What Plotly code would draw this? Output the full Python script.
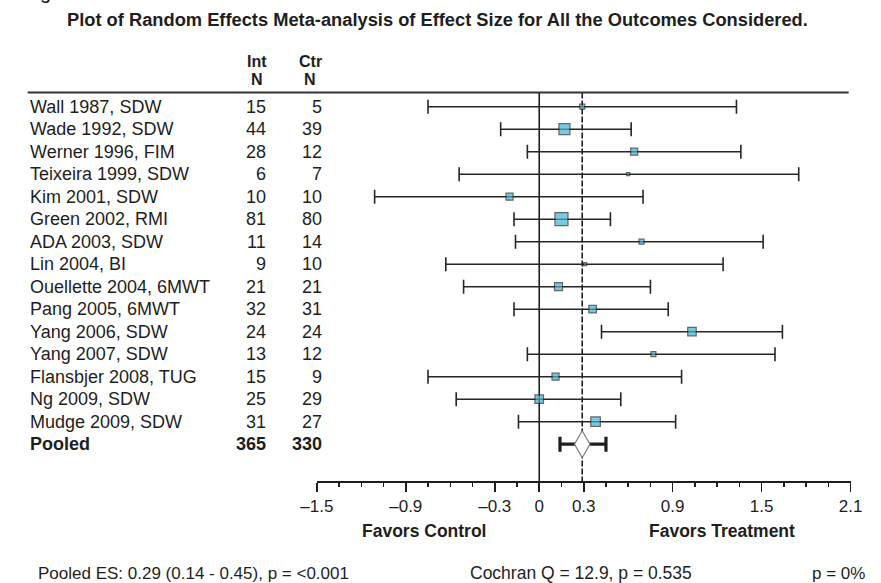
import numpy as np
import plotly.graph_objects as go

# ---------------- data ----------------
studies = ["Wall 1987, SDW", "Wade 1992, SDW", "Werner 1996, FIM", "Teixeira 1999, SDW",
           "Kim 2001, SDW", "Green 2002, RMI", "ADA 2003, SDW", "Lin 2004, BI",
           "Ouellette 2004, 6MWT", "Pang 2005, 6MWT", "Yang 2006, SDW", "Yang 2007, SDW",
           "Flansbjer 2008, TUG", "Ng 2009, SDW", "Mudge 2009, SDW"]
int_n = [15, 44, 28, 6, 10, 81, 11, 9, 21, 32, 24, 13, 15, 25, 31]
ctr_n = [5, 39, 12, 7, 10, 80, 14, 10, 21, 31, 24, 12, 9, 29, 27]
es = [0.29, 0.17, 0.64, 0.60, -0.20, 0.15, 0.69, 0.31, 0.13, 0.36, 1.03, 0.77, 0.11, 0.00, 0.38]
ci_low = [-0.75, -0.26, -0.08, -0.54, -1.11, -0.17, -0.16, -0.63, -0.51, -0.17, 0.42, -0.08, -0.75, -0.56, -0.14]
ci_high = [1.33, 0.62, 1.36, 1.75, 0.70, 0.48, 1.51, 1.24, 0.75, 0.87, 1.64, 1.59, 0.96, 0.55, 0.92]
weight_px = [5, 11, 7, 3, 7, 13, 5, 3, 8, 7.5, 8.5, 5, 7, 8.5, 9.5]  # marker size (px), relative weight

pooled_label = "Pooled"
pooled_int, pooled_ctr = 365, 330
pooled_es, pooled_low, pooled_high = 0.29, 0.14, 0.45

tick_vals = [-1.5, -0.9, -0.3, 0, 0.3, 0.9, 1.5, 2.1]
tick_text = ["\u20131.5", "\u20130.9", "\u20130.3", "0", "0.3", "0.9", "1.5", "2.1"]

title = "Plot of Random Effects Meta-analysis of Effect Size for All the Outcomes Considered."
footer_left = "Pooled ES: 0.29 (0.14 - 0.45), p = <0.001"
footer_mid = "Cochran Q = 12.9, p = 0.535"
footer_right = "p = 0%"

# ---------------- layout helpers (pixels) ----------------
W, H = 881, 583
ROW0, ROWH = 106.7, 22.5
def py(p):  # pixel y -> data y (row units)
    return (p - ROW0) / ROWH
def ppx(x):
    return x / W
def ppy(p):
    return 1 - p / H

FONT = "Liberation Sans, Arial, sans-serif"
INK = "#1e1e1e"
TS = 18  # table font size

rows = list(range(len(studies)))
pooled_row = len(studies)

fig = go.Figure()

# study estimates
fig.add_trace(go.Scatter(
    x=es, y=rows, mode="markers",
    marker=dict(symbol="square", size=weight_px, color="#41B3D3",
                line=dict(color="#262626", width=1.2)),
    error_x=dict(type="data", symmetric=False,
                 array=[h - e for h, e in zip(ci_high, es)],
                 arrayminus=[e - l for e, l in zip(es, ci_low)],
                 color="#262626", thickness=1.6, width=7),
    hoverinfo="skip", showlegend=False))

# pooled whiskers
fig.add_trace(go.Scatter(
    x=[pooled_es], y=[pooled_row], mode="markers",
    marker=dict(size=1, color="rgba(0,0,0,0)"),
    error_x=dict(type="data", symmetric=False,
                 array=[pooled_high - pooled_es], arrayminus=[pooled_es - pooled_low],
                 color="#1e1e1e", thickness=3.2, width=7.5),
    hoverinfo="skip", showlegend=False))

# pooled diamond
dw, dh = 0.052, 0.6
fig.add_trace(go.Scatter(
    x=[pooled_es - dw, pooled_es, pooled_es + dw, pooled_es, pooled_es - dw],
    y=[pooled_row, pooled_row - dh, pooled_row, pooled_row + dh, pooled_row],
    mode="lines", fill="toself", fillcolor="white",
    line=dict(color="#7a7a7a", width=1.2),
    hoverinfo="skip", showlegend=False))

# reference lines
y_top, y_axis = py(92.5), py(481)
fig.add_shape(type="line", xref="x", yref="y", x0=0, x1=0, y0=y_top, y1=y_axis,
              line=dict(color=INK, width=1.6), layer="below")
fig.add_shape(type="line", xref="x", yref="y", x0=pooled_es, x1=pooled_es, y0=y_top, y1=y_axis,
              line=dict(color=INK, width=1.6, dash="6px,2px"), layer="below")
fig.add_shape(type="line", xref="paper", yref="paper", x0=ppx(11), x1=ppx(860),
              y0=ppy(92.5), y1=ppy(92.5), line=dict(color="#333", width=2.2))

def A(x, y, text, xanchor="left", size=TS, xref="paper", yref="y", bold=False, color=INK):
    return dict(x=x, y=y, xref=xref, yref=yref, text=("<b>%s</b>" % text) if bold else text,
                xanchor=xanchor, yanchor="middle", showarrow=False,
                font=dict(size=size, color=color, family=FONT))

ann = []
# table
for i, (s, a, b) in enumerate(zip(studies, int_n, ctr_n)):
    ann.append(A(ppx(11), i, s))
    ann.append(A(ppx(260), i, str(a), "right"))
    ann.append(A(ppx(317), i, str(b), "right"))
ann.append(A(ppx(11), pooled_row, pooled_label, bold=True))
ann.append(A(ppx(260), pooled_row, str(pooled_int), "right", bold=True))
ann.append(A(ppx(317), pooled_row, str(pooled_ctr), "right", bold=True))
# headers
for txt, xc, yc in [("Int", 248, 62), ("N", 248, 79), ("Ctr", 303, 62), ("N", 303, 79)]:
    ann.append(A(ppx(xc), ppy(yc), txt, "center", size=16, yref="paper", bold=True))
# title
ann.append(A(ppx(435), ppy(19), title, "center", size=18.3, yref="paper", bold=True))
# favors
ann.append(A(ppx(421), ppy(531), "Favors Control", "center", size=17.5, yref="paper", bold=True))
ann.append(A(ppx(729), ppy(531), "Favors Treatment", "center", size=17.5, yref="paper", bold=True))
# footer
ann.append(A(ppx(20), ppy(573), footer_left, size=17, yref="paper"))
ann.append(A(ppx(466), ppy(573), footer_mid, size=17.5, yref="paper"))
ann.append(A(ppx(879), ppy(573), footer_right, "right", size=17, yref="paper"))
# clipped figure letter at top-left
ann.append(A(ppx(22), ppy(-8), "g", size=20, yref="paper", color="#111"))

minor_vals = [round(v, 2) for v in np.arange(-1.5, 2.1001, 0.15) if all(abs(v - t) > 1e-6 for t in tick_vals)]

fig.update_layout(
    width=W, height=H, margin=dict(l=0, r=0, t=0, b=0, pad=0),
    paper_bgcolor="white", plot_bgcolor="white",
    annotations=ann, showlegend=False,
    xaxis=dict(domain=[310 / W, 862 / W], range=[-1.5, 2.1], anchor="free", position=ppy(481),
               showgrid=False, zeroline=False, showline=True, linecolor=INK, linewidth=1.6,
               ticks="outside", ticklen=9, tickwidth=1.6, tickcolor=INK,
               tickmode="array", tickvals=tick_vals, ticktext=tick_text,
               tickfont=dict(size=17, color=INK, family=FONT),
               minor=dict(tickmode="array", tickvals=minor_vals, ticks="outside", ticklen=4,
                          tickwidth=1.4, tickcolor=INK, showgrid=False)),
    yaxis=dict(domain=[0, 1], range=[py(H), py(0)], visible=False, showgrid=False, zeroline=False),
)

fig.write_html("out.html", config={"displayModeBar": False, "staticPlot": True},
               post_script="document.body.style.margin='0px';document.body.style.overflow='hidden';")
